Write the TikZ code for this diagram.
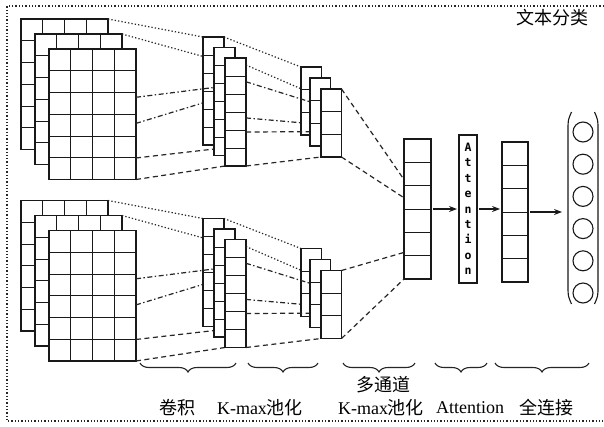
\documentclass[tikz,border=0pt]{standalone}
\usepackage{fontspec}
\setmainfont{Liberation Serif}
\newfontfamily\cjk{Noto Sans CJK SC}
\newfontfamily\attfont{DejaVu Sans Mono}
\usetikzlibrary{calc,arrows.meta,decorations.pathreplacing}

\tikzset{
  layerbox/.style={draw=black!90, fill=white, line width=1.25pt, inner sep=0pt, outer sep=0pt},
  ghostbox/.style={inner sep=0pt, outer sep=0pt},
  gridline/.style={draw=black!90, line width=1pt},
  dotline/.style={draw=black!85, line width=1.2pt, dash pattern=on 1.3pt off 2.1pt},
  dashline/.style={draw=black!85, line width=1.2pt, dash pattern=on 5pt off 3.5pt},
  dashdotline/.style={draw=black!85, line width=1.2pt, dash pattern=on 5pt off 2.5pt on 1.4pt off 2.5pt},
  borderline/.style={draw=black!85, line width=1.1pt, dash pattern=on 1.3pt off 2pt},
  bracestyle/.style={draw=black!85, line width=1.1pt, decorate, decoration={brace, mirror, amplitude=9pt}},
  arr/.style={draw=black!90, line width=1.1pt, -{Stealth[length=8pt,width=6pt]}, shorten >=2pt, shorten <=2pt},
  circ/.style={draw=black!90, line width=1.1pt, circle, minimum size=20pt, inner sep=0pt},
  lbl/.style={font=\fontsize{18}{20}\selectfont, inner sep=0pt},
}

% define a node only (for forward references)
\newcommand\mydef[5]{%
  \node[ghostbox, minimum width=#4pt, minimum height=#5pt, anchor=north west] (#1) at (#2,#3) {};%
}
% draw a layer: name, x, y, w, h, cols, rows
\newcommand\mylayer[7]{%
  \node[layerbox, minimum width=#4pt, minimum height=#5pt, anchor=north west] (#1) at (#2,#3) {};%
  \pgfmathtruncatemacro\myc{#6-1}%
  \ifnum\myc>0
    \foreach \i in {1,...,\myc}{\draw[gridline] ($(#1.north west)!{\i/#6}!(#1.north east)$) -- ($(#1.south west)!{\i/#6}!(#1.south east)$);}%
  \fi
  \pgfmathtruncatemacro\myr{#7-1}%
  \foreach \i in {1,...,\myr}{\draw[gridline] ($(#1.north west)!{\i/#7}!(#1.south west)$) -- ($(#1.north east)!{\i/#7}!(#1.south east)$);}%
}

\newcommand\mygroup[2]{%
  \mydef{#1cA}{203}{37+#2}{21}{108}
  \mydef{#1cB}{214}{47.5+#2}{21}{108}
  \mydef{#1cC}{225}{58+#2}{21}{108}
  \mydef{#1pA}{301}{67+#2}{20.5}{68}
  \mydef{#1pB}{310}{78+#2}{20.5}{68}
  \mydef{#1pC}{321}{89+#2}{20.5}{68}
  \mylayer{#1gA}{21}{19+#2}{87}{130.5}{4}{6}
  \mylayer{#1gB}{35}{34+#2}{87}{130.5}{4}{6}
  \mylayer{#1gC}{49}{49+#2}{87}{130.5}{4}{6}
  \draw[dotline] (#1gA.north east) -- (#1cA.north west);
  \draw[dotline] (#1gB.north east) -- ($(#1cA.north west)!0.18!(#1cA.south west)$);
  \draw[dashdotline] ($(#1gC.north east)!0.57!(#1gC.south east)$) -- ($(#1cA.north west)!0.61!(#1cA.south west)$);
  \mylayer{#1cA}{203}{37+#2}{21}{108}{1}{6}
  \draw[dashdotline] ($(#1gC.north east)!0.37!(#1gC.south east)$) -- ($(#1cB.north west)!0.37!(#1cB.south west)$);
  \draw[dashline] ($(#1gC.north east)!0.835!(#1gC.south east)$) -- ($(#1cB.north west)!0.94!(#1cB.south west)$);
  \mylayer{#1cB}{214}{47.5+#2}{21}{108}{1}{6}
  \draw[dashline] (#1gC.south east) -- (#1cC.south west);
  \mylayer{#1cC}{225}{58+#2}{21}{108}{1}{6}
  \draw[dotline] (#1cA.north east) -- (#1pA.north west);
  \draw[dotline] ($(#1cC.north east)!0.065!(#1cC.south east)$) -- ($(#1pA.north west)!0.32!(#1pA.south west)$);
  \draw[dashdotline] ($(#1cC.north east)!0.555!(#1cC.south east)$) -- ($(#1pA.north west)!0.82!(#1pA.south west)$);
  \mylayer{#1pA}{301}{67+#2}{20.5}{68}{1}{3}
  \draw[dashdotline] ($(#1cC.north east)!0.22!(#1cC.south east)$) -- ($(#1pB.north west)!0.35!(#1pB.south west)$);
  \draw[dashline] ($(#1cC.north east)!0.685!(#1cC.south east)$) -- ($(#1pB.north west)!0.79!(#1pB.south west)$);
  \mylayer{#1pB}{310}{78+#2}{20.5}{68}{1}{3}
  \draw[dashline] (#1cC.south east) -- (#1pC.south west);
  \mylayer{#1pC}{321}{89+#2}{20.5}{68}{1}{3}
}

\begin{document}
\begin{tikzpicture}[x=1pt, y=-1pt]
\useasboundingbox (0,0) rectangle (604,426);
\fill[white] (0,0) rectangle (604,426);

% outer dotted frame
\draw[borderline] (604,6) -- (7,6) -- (7,421) -- (604,421);

% two input branches
\mygroup{up}{0}
\mygroup{lo}{181.5}

% multi-channel concat
\mylayer{cat}{404}{139}{27}{140}{1}{6}
\draw[dashline] (uppC.north east) -- ($(cat.north west)!0.29!(cat.south west)$);
\draw[dashline] (uppC.south east) -- ($(cat.north west)!0.42!(cat.south west)$);
\draw[dashline] (lopC.north east) -- ($(cat.north west)!0.81!(cat.south west)$);
\draw[dashline] (lopC.south east) -- (cat.south west);

% attention
\node[layerbox, minimum width=18pt, minimum height=148pt, anchor=north west, align=center,
      font=\attfont\bfseries\fontsize{11.5}{15.4}\selectfont] (att) at (459,135)
  {A\\t\\t\\e\\n\\t\\i\\o\\n};

% fully connected
\mylayer{fc}{502}{142}{26}{140}{1}{6}

% arrows
\draw[arr] (cat.east) -- (att.west);
\draw[arr] (att.east) -- (att.east -| fc.west);
\coordinate (outl) at (564,0);
\draw[arr] (fc.east) -- (fc.east -| outl);

% output neurons
\foreach \k in {0,...,5}{\node[circ] (o\k) at (583,132+32.2*\k) {};}
\draw[draw=black!90, line width=1.1pt] (571.5,112) .. controls (568,120) .. (568,130) -- (568,286) .. controls (568,296) .. (571.5,304);
\draw[draw=black!90, line width=1.1pt] (594.5,112) .. controls (598,120) .. (598,130) -- (598,286) .. controls (598,296) .. (594.5,304);

% braces
\draw[bracestyle] (140,363) -- (236,363);
\draw[bracestyle] (248,363) -- (318,363);
\draw[bracestyle] (343,363) -- (415,363);
\draw[bracestyle] (435,363) -- (487,363);
\draw[bracestyle] (495,363) -- (589,363);

% labels
\node[lbl] (l1) at (177,408) {\cjk 卷积};
\node[lbl] (l2) at (260,408) {K-max{\cjk 池化}};
\node[lbl] (l3a) at (383,385) {\cjk 多通道};
\node[lbl] (l3b) at (381,408) {K-max{\cjk 池化}};
\node[lbl] (l4) at (470,408) {Attention};
\node[lbl] (l5) at (546,408) {\cjk 全连接};
\node[lbl] (title) at (552,18) {\cjk 文本分类};
\end{tikzpicture}
\end{document}
